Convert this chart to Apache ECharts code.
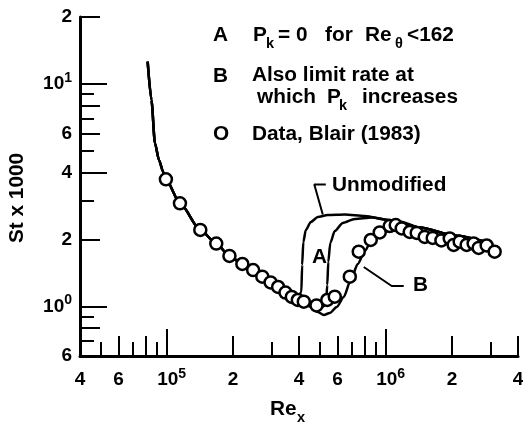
<!DOCTYPE html>
<html>
<head>
<meta charset="utf-8">
<script src="https://cdn.jsdelivr.net/npm/echarts@6/dist/echarts.min.js"></script>
<style>
  html, body { margin: 0; padding: 0; background: #fff; }
  #chart { width: 523px; height: 426px; }
</style>
</head>
<body>
<div id="chart"></div>
<script>
// Stanton number (St x 1000) against Reynolds number Re_x

// Measured data, Blair (1983)
const blairRe = [98700, 114400, 141700, 167600, 192500, 220500, 247000, 272000, 296800, 321200,
  347100, 370900, 395000, 420700, 480800, 538500, 582600, 682300, 749700, 850500, 934800,
  1038000, 1106000, 1178000, 1281000, 1379000, 1500000, 1632000, 1788000, 1951000, 2034000,
  2166000, 2331000, 2509000, 2645000, 2877000, 3129000];
const blairSt = [3.73, 2.91, 2.21, 1.92, 1.69, 1.554, 1.46, 1.363, 1.284, 1.225,
  1.157, 1.105, 1.071, 1.052, 1.012, 1.071, 1.108, 1.363, 1.765, 1.992, 2.153,
  2.302, 2.326, 2.244, 2.164, 2.142, 2.055, 2.034, 1.982, 2.023, 1.892,
  1.957, 1.892, 1.921, 1.834, 1.882, 1.765];

// Laminar branch shared by all predictions
const laminarRe = [81470, 84780, 87960, 91730, 95960, 98700, 114400, 141700, 167600, 192500,
  220500, 247000, 272000, 296800, 321200, 347100, 370900];
const laminarSt = [12.6, 8.48, 5.42, 4.56, 4.025, 3.73, 2.91, 2.21, 1.92, 1.69,
  1.554, 1.46, 1.363, 1.284, 1.225, 1.157, 1.105];

// Transition: unmodified model
const unmodRe = [390000, 410000, 413400, 418600, 429700, 452900, 487500, 541300, 647100, 798700, 1027000];
const unmodSt = [1.065, 1.163, 1.538, 1.951, 2.209, 2.40, 2.527, 2.58, 2.594, 2.554, 2.45];

// Transition: A, Pk = 0 for Re_theta < 162
const caseARe = [403500, 448100, 497700, 530200, 538500, 544200, 555800, 582600, 633800, 719000, 859600, 1027000];
const caseASt = [1.054, 1.012, 0.981, 1.017, 1.251, 1.586, 1.931, 2.186, 2.375, 2.476, 2.514, 2.45];

// Transition: B, rate of Pk increase also limited
const caseBRe = [403500, 448100, 487500, 519100, 552900, 595100, 640500, 689400, 742000, 798700,
  859600, 934800, 1027000, 1153000];
const caseBSt = [1.054, 1.001, 0.946, 0.917, 0.936, 0.996, 1.105, 1.317, 1.554, 1.778,
  1.992, 2.198, 2.363, 2.412];

// Turbulent branch shared by all predictions
const turbRe = [1423000, 2055000, 2969000];
const turbSt = [2.267, 2.087, 1.931];

// Callout leaders
const unmodLeaderRe = [530200, 469800, 513600];
const unmodLeaderSt = [3.537, 3.537, 2.594];
const bLeaderRe = [790300, 1060000, 1203000];
const bLeaderSt = [1.507, 1.238, 1.238];

// Axis ticks and labels
const xLongTicks = [1e5, 1e6];
const xMidTicks = [6e4, 8e4, 2e5, 4e5, 6e5, 8e5, 2e6, 4e6];
const xShortTicks = [5e4, 7e4, 9e4, 3e5, 5e5, 7e5, 9e5, 3e6];
const xLabelValues = [4e4, 6e4, 1e5, 2e5, 4e5, 6e5, 1e6, 2e6, 4e6];
const xLabelTexts = ['4', '6', '{b|10}{s|5}', '2', '4', '6', '{b|10}{s|6}', '2', '4'];

const yLongTicks = [1, 4, 10];
const yMidTicks = [0.8, 2, 6, 8, 20];
const yShortTicks = [0.7, 0.9, 3, 5, 7, 9];
const yLabelValues = [0.6, 1, 2, 4, 6, 10, 20];
const yLabelTexts = ['6', '10{s|0}', '2', '4', '6', '10{s|1}', '2'];

const L = Math.log10;
const xMin = L(4e4), xMax = L(4e6);
const yMin = L(0.6), yMax = L(20);
const FONT = '"Liberation Sans", Arial, Helvetica, sans-serif';
const INK = '#000';

const toPts = (xs, ys) => xs.map((x, i) => [L(x), L(ys[i])]);
const pickLabel = (values, texts) => v => {
  for (let i = 0; i < values.length; i++) {
    if (Math.abs(L(values[i]) - v) < 1e-6) return texts[i];
  }
  return '';
};

function tickOnlyAxis(kind, values, len) {
  const isX = kind === 'x';
  return {
    type: 'value',
    gridIndex: 0,
    position: isX ? 'bottom' : 'left',
    min: isX ? xMin : yMin,
    max: isX ? xMax : yMax,
    axisLine: { show: false, onZero: false },
    splitLine: { show: false },
    axisLabel: { show: false },
    axisTick: {
      show: true, inside: true, length: len,
      customValues: values.map(L),
      lineStyle: { color: INK, width: 2 }
    }
  };
}

const labelRich = {
  b: { fontSize: 19, fontWeight: 'bold', fontFamily: FONT, color: INK, padding: [0, 0, 0, 9] },
  s: { fontSize: 14, fontWeight: 'bold', fontFamily: FONT, color: INK, padding: [0, 0, 12, 0] }
};
const yLabelRich = {
  s: { fontSize: 14, fontWeight: 'bold', fontFamily: FONT, color: INK, padding: [0, 0, 12, 0] }
};

const lineSeries = (name, xs, ys) => ({
  name, type: 'line', xAxisIndex: 0, yAxisIndex: 0,
  data: toPts(xs, ys),
  showSymbol: false, symbol: 'none',
  smooth: 0.25, smoothMonotone: 'x',
  lineStyle: { color: INK, width: 2.5 },
  z: 3, silent: true
});
const leaderSeries = (name, xs, ys) => ({
  name, type: 'line', xAxisIndex: 0, yAxisIndex: 0,
  data: toPts(xs, ys),
  showSymbol: false, symbol: 'none',
  lineStyle: { color: INK, width: 2 },
  z: 3, silent: true
});

function txt(text, x, y, size, extra) {
  return Object.assign({
    type: 'text', x, y, scaleX: 1.04,
    style: {
      text, fontSize: size || 20, fontFamily: FONT, fontWeight: 'bold',
      fill: INK, align: 'left', verticalAlign: 'middle'
    },
    z: 10, silent: true
  }, extra || {});
}

const chart = echarts.init(document.getElementById('chart'), null, { renderer: 'canvas' });

chart.setOption({
  animation: false,
  backgroundColor: '#fff',
  grid: { left: 80, top: 17, width: 438, height: 339, containLabel: false, outerBoundsMode: 'none' },
  xAxis: [
    {
      type: 'value', gridIndex: 0, position: 'bottom', min: xMin, max: xMax,
      splitLine: { show: false },
      axisLine: { show: true, onZero: false, lineStyle: { color: INK, width: 3 } },
      axisTick: { show: true, inside: true, length: 27, customValues: xLongTicks.map(L),
        lineStyle: { color: INK, width: 2 } },
      axisLabel: {
        show: true, customValues: xLabelValues.map(L),
        formatter: pickLabel(xLabelValues, xLabelTexts),
        margin: 11, fontSize: 19, fontWeight: 'bold', fontFamily: FONT, color: INK,
        lineHeight: 26, rich: labelRich
      }
    },
    tickOnlyAxis('x', xMidTicks, 20),
    tickOnlyAxis('x', xShortTicks, 14)
  ],
  yAxis: [
    {
      type: 'value', gridIndex: 0, position: 'left', min: yMin, max: yMax,
      splitLine: { show: false },
      axisLine: { show: true, onZero: false, lineStyle: { color: INK, width: 3 } },
      axisTick: { show: true, inside: true, length: 27, customValues: yLongTicks.map(L),
        lineStyle: { color: INK, width: 2 } },
      axisLabel: {
        show: true, customValues: yLabelValues.map(L),
        formatter: pickLabel(yLabelValues, yLabelTexts),
        margin: 8, fontSize: 19, fontWeight: 'bold', fontFamily: FONT, color: INK,
        lineHeight: 26, rich: yLabelRich
      }
    },
    tickOnlyAxis('y', yMidTicks, 20),
    tickOnlyAxis('y', yShortTicks, 14)
  ],
  series: [
    lineSeries('Unmodified', laminarRe.concat(unmodRe, turbRe), laminarSt.concat(unmodSt, turbSt)),
    lineSeries('A', laminarRe.concat(caseARe, turbRe), laminarSt.concat(caseASt, turbSt)),
    lineSeries('B', laminarRe.concat(caseBRe, turbRe), laminarSt.concat(caseBSt, turbSt)),
    leaderSeries('Unmodified leader', unmodLeaderRe, unmodLeaderSt),
    leaderSeries('B leader', bLeaderRe, bLeaderSt),
    {
      name: 'Data, Blair (1983)', type: 'scatter', xAxisIndex: 0, yAxisIndex: 0,
      data: toPts(blairRe, blairSt),
      symbol: 'circle', symbolSize: 12,
      itemStyle: { color: '#fff', borderColor: INK, borderWidth: 2.5, opacity: 1 },
      z: 5, silent: true
    }
  ],
  graphic: [
    // key
    txt('A', 213, 35),
    txt('P', 253, 35), txt('k', 266, 44, 14),
    txt('= 0', 278, 35),
    txt('for', 325, 35),
    txt('Re', 365, 35), txt('θ', 395, 44, 14),
    txt('<162', 407, 35),
    txt('B', 213, 76),
    txt('Also limit rate at', 252, 75.5),
    txt('which', 257, 97),
    txt('P', 327, 97), txt('k', 339, 106.5, 14),
    txt('increases', 362, 97),
    txt('O', 213, 134),
    txt('Data, Blair (1983)', 252, 134),
    // curve callouts
    txt('Unmodified', 332, 185.5),
    txt('A', 312, 257),
    txt('B', 413, 285),
    // axis titles
    txt('Re', 270, 409), txt('x', 297, 418, 14),
    txt('St x 1000', 17, 198, 20, { rotation: Math.PI / 2, style: {
      text: 'St x 1000', fontSize: 20, fontFamily: FONT, fontWeight: 'bold',
      fill: INK, align: 'center', verticalAlign: 'middle' } })
  ]
});
</script>
</body>
</html>
